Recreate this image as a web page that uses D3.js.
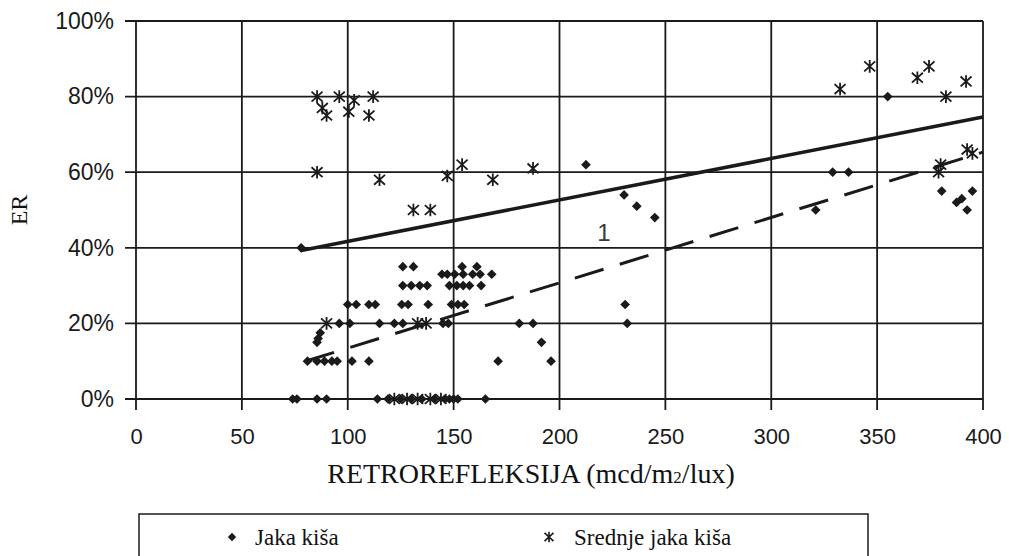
<!DOCTYPE html>
<html><head><meta charset="utf-8">
<script src="https://cdn.jsdelivr.net/npm/d3@7"></script>
<style>body{margin:0;background:#fff}svg{display:block}</style>
</head><body>
<svg id="c" width="1009" height="556"></svg>
<script>
// ---- data ----
const xTicks = [0,50,100,150,200,250,300,350,400];
const yTicks = [0,0.2,0.4,0.6,0.8,1.0];
const seriesNames = ["Jaka kiša","Srednje jaka kiša"];
const jakaX = [74,76,85.5,90,114,119,125,130,135,141,146,148,150,152,165,
  81,85.5,89,92.5,95,102,110,171,196,
  85.5,86,87,191.5,
  96,101,115,122,126,145,147.5,181,187.5,232,
  100,104,110,113,125.5,128.5,138,149,152,155,231,
  126,130,134,137.5,148,151.5,154.5,157.5,163,
  144.5,147,150.5,154.5,159,162.5,168,
  126,131,154,161,
  212.5,230.5,236.5,245,
  321,329,336.5,355,380.5,395,387.5,390,392.5,78];
const jakaY = [0,0,0,0,0,0,0,0,0,0,0,0,0,0,0,
  10,10,10,10,10,10,10,10,10,
  15,16,17.5,15,
  20,20,20,20,20,20,20,20,20,20,
  25,25,25,25,25,25,25,25,25,25,25,
  30,30,30,30,30,30,30,30,30,
  33,33,33,33,33,33,33,
  35,35,35,35,
  62,54,51,48,
  50,60,60,80,55,55,52,53,50,40];
const srednjeX = [85.5,88,90,96,103,100.5,112,110,85.5,115,147,154,168.5,187.5,131,139,
  90,133,137,122,128,133,139,144,
  332.5,346.5,369,374.5,382.5,392,392.5,395,380,379];
const srednjeY = [80,77,75,80,79,76,80,75,60,58,59,62,58,61,50,50,
  20,20,20,0,0,0,0,0,
  82,88,85,88,80,84,66,65,62,60];
// trend lines (endpoints)
const solidX = [78,400], solidY = [39.3,74.6];
const dashX = [80,400], dashY = [10,65.3];
const lineLabel = "1", lineLabelX = 221, lineLabelY = 43.5;

// ---- layout ----
const L=136,R=983,T=21,B=399;
const svg=d3.select("#c");
const x=d3.scaleLinear().domain([0,400]).range([L,R]);
const y=d3.scaleLinear().domain([0,1]).range([B,T]);
const ink="#1a1a1a";

// grid
svg.append("g").selectAll("line").data(yTicks).join("line")
  .attr("x1",L-11).attr("x2",R).attr("y1",d=>y(d)).attr("y2",d=>y(d))
  .attr("stroke",ink).attr("stroke-width",1.8);
svg.append("g").selectAll("line").data(xTicks).join("line")
  .attr("y1",T).attr("y2",B+11).attr("x1",d=>x(d)).attr("x2",d=>x(d))
  .attr("stroke",ink).attr("stroke-width",1.8);

// axes labels via d3 axes (text only)
const ax=svg.append("g").attr("transform",`translate(0,${B})`)
  .call(d3.axisBottom(x).tickValues(xTicks).tickSize(0).tickPadding(29));
ax.select(".domain").remove();
ax.selectAll("text").attr("font-family","Liberation Sans, Arial, sans-serif").attr("font-size",22).attr("fill",ink);
const ay=svg.append("g").attr("transform",`translate(${L},0)`)
  .call(d3.axisLeft(y).tickValues(yTicks).tickFormat(d3.format(".0%")).tickSize(0).tickPadding(22));
ay.select(".domain").remove();
ay.selectAll("text").attr("font-family","Liberation Sans, Arial, sans-serif").attr("font-size",23).attr("fill",ink);

// trend lines
const ln=d3.line().x(d=>x(d[0])).y(d=>y(d[1]/100));
svg.append("path").datum(solidX.map((v,i)=>[v,solidY[i]])).attr("d",ln)
  .attr("fill","none").attr("stroke",ink).attr("stroke-width",3.6);
svg.append("path").datum(dashX.map((v,i)=>[v,dashY[i]])).attr("d",ln)
  .attr("fill","none").attr("stroke",ink).attr("stroke-width",3).attr("stroke-dasharray","30,17");

// markers
const diamond=d3.symbol().type(d3.symbolDiamond2).size(60);
const starPath=(s)=>`M${-s},${-s*0.9}L${s},${s*0.9}M${-s},${s*0.9}L${s},${-s*0.9}M0,${-s*1.15}L0,${s*1.15}`;
svg.append("g").selectAll("path").data(jakaX.map((v,i)=>[v,jakaY[i]])).join("path")
  .attr("transform",d=>`translate(${x(d[0])},${y(d[1]/100)})`).attr("d",diamond).attr("fill",ink);
svg.append("g").selectAll("path").data(srednjeX.map((v,i)=>[v,srednjeY[i]])).join("path")
  .attr("transform",d=>`translate(${x(d[0])},${y(d[1]/100)})`).attr("d",starPath(5.5))
  .attr("fill","none").attr("stroke",ink).attr("stroke-width",1.8);

// line label
svg.append("text").attr("x",x(lineLabelX)).attr("y",y(lineLabelY/100)).attr("text-anchor","middle")
  .attr("dominant-baseline","middle").attr("font-family","Liberation Sans, Arial, sans-serif")
  .attr("font-size",24).attr("fill","#3a3a3a").text(lineLabel);

// axis titles
const tt=svg.append("text").attr("x",531).attr("y",483).attr("text-anchor","middle")
  .attr("font-family","Liberation Serif, Times New Roman, serif").attr("font-size",28).attr("fill","#111");
tt.append("tspan").text("RETROREFLEKSIJA (mcd/m");
tt.append("tspan").attr("font-size",17).text("2");
tt.append("tspan").text("/lux)");
svg.append("text").attr("transform",`translate(27,${(T+B)/2}) rotate(-90)`).attr("text-anchor","middle")
  .attr("font-family","Liberation Serif, Times New Roman, serif").attr("font-size",24).attr("fill","#111").text("ER");

// legend
svg.append("rect").attr("x",139).attr("y",514).attr("width",729).attr("height",60)
  .attr("fill","none").attr("stroke",ink).attr("stroke-width",1.5);
const lg=[{n:seriesNames[0],mx:232,tx:255},{n:seriesNames[1],mx:549,tx:574}];
svg.append("path").attr("transform",`translate(${lg[0].mx},537)`).attr("d",d3.symbol().type(d3.symbolDiamond2).size(45)).attr("fill",ink);
svg.append("path").attr("transform",`translate(${lg[1].mx},537)`).attr("d",starPath(4.5)).attr("fill","none").attr("stroke",ink).attr("stroke-width",1.6);
svg.append("g").selectAll("text").data(lg).join("text").attr("x",d=>d.tx).attr("y",545)
  .attr("font-family","Liberation Serif, Times New Roman, serif").attr("font-size",23).attr("fill","#111").text(d=>d.n);
</script>
</body></html>
